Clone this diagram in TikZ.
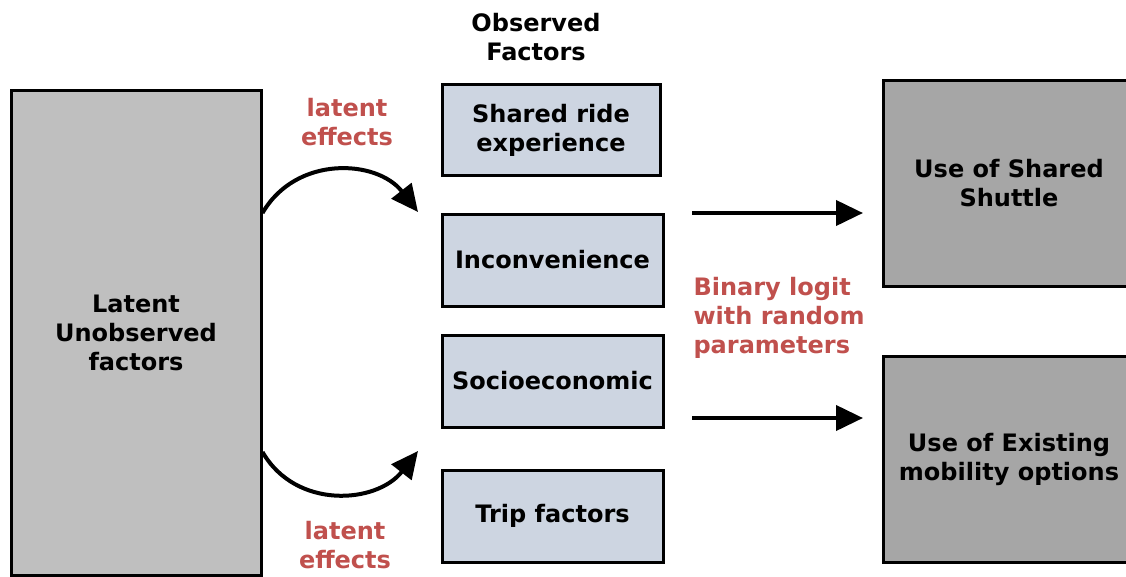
\documentclass[tikz,border=0pt]{standalone}
\usepackage{fontspec}
\setmainfont{DejaVu Sans}
\usetikzlibrary{arrows.meta}
\definecolor{latentgray}{HTML}{BFBFBF}
\definecolor{obsblue}{HTML}{CDD5E1}
\definecolor{outgray}{HTML}{A6A6A6}
\definecolor{labred}{HTML}{C0504D}
\tikzset{
  txt/.style={font=\bfseries\fontsize{24}{29}\selectfont, align=center},
  boxbase/.style={draw=black, line width=3pt, inner sep=0pt, txt},
  latentbox/.style={boxbase, fill=latentgray},
  obsbox/.style={boxbase, fill=obsblue},
  outbox/.style={boxbase, fill=outgray},
  redlab/.style={txt, text=labred},
  arr/.style={line width=4pt, -{Triangle[length=27pt,width=25pt]}},
}
\begin{document}
\begin{tikzpicture}[x=1pt,y=-1pt]
\useasboundingbox (0,0) rectangle (1126,576);
\node[latentbox, minimum width=250pt, minimum height=485pt] (lat) at (136,332.5) {Latent\\Unobserved\\factors};
\node[obsbox, minimum width=218pt, minimum height=91pt] (shared) at (551,130) {Shared ride\\experience};
\node[obsbox, minimum width=221pt, minimum height=92pt] (inc) at (552.5,260) {Inconvenience};
\node[obsbox, minimum width=221pt, minimum height=92pt] (soc) at (552.5,381) {Socioeconomic};
\node[obsbox, minimum width=221pt, minimum height=92pt] (trip) at (552.5,516) {Trip factors};
\node[outbox, minimum width=252pt, minimum height=206pt] (shuttle) at (1009,183) {Use of Shared\\Shuttle};
\node[outbox, minimum width=252pt, minimum height=206pt] (exist) at (1009,459) {Use of Existing\\mobility options};
\node[txt] (obs) at (536,37.5) {Observed\\Factors};
\node[redlab] (lt) at (347,122) {latent\\effects};
\node[redlab] (lb) at (345,545) {latent\\effects};
\node[redlab, align=left, anchor=west] (bin) at (690,318) {Binary logit\\with random\\parameters};
\coordinate (a1s) at (692,213);
\coordinate (a1e) at (863,213);
\coordinate (a2s) at (692,418);
\coordinate (a2e) at (863,418);
\coordinate (ct) at (418,212);
\coordinate (cb) at (418,451);
\draw[arr] (lat.east |- 0,213) to[out=60,in=128,looseness=1.1] (ct);
\draw[arr] (lat.east |- 0,452) to[out=-60,in=-128,looseness=1.1] (cb);
\draw[arr] (a1s) -- (a1e);
\draw[arr] (a2s) -- (a2e);
\end{tikzpicture}
\end{document}
